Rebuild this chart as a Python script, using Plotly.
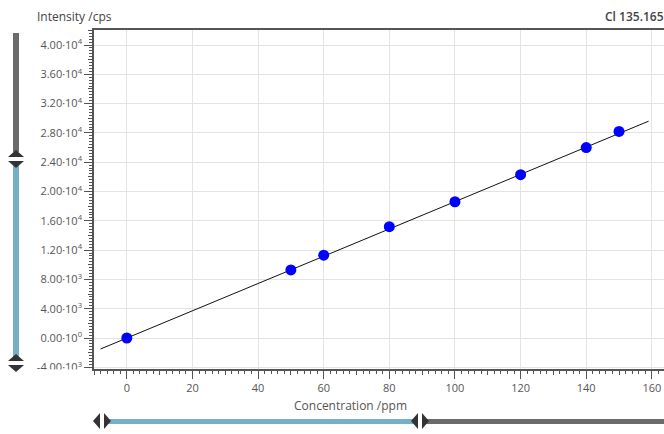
import plotly.graph_objects as go

# ---- data ----
conc_ppm = [0, 50, 60, 80, 100, 120, 140, 150]
intensity_cps = [0, 9300, 11300, 15200, 18600, 22300, 26000, 28200]
fit_x = [-8, 159]
fit_y = [-1500, 29600]

x_tick_vals = [0, 20, 40, 60, 80, 100, 120, 140, 160]
x_tick_text = ["0", "20", "40", "60", "80", "100", "120", "140", "160"]
y_tick_vals = [-4000, 0, 4000, 8000, 12000, 16000, 20000, 24000, 28000, 32000, 36000, 40000]
y_tick_text = ["-4.00·10<sup>3</sup>", "0.00·10<sup>0</sup>", "4.00·10<sup>3</sup>",
               "8.00·10<sup>3</sup>", "1.20·10<sup>4</sup>", "1.60·10<sup>4</sup>",
               "2.00·10<sup>4</sup>", "2.40·10<sup>4</sup>", "2.80·10<sup>4</sup>",
               "3.20·10<sup>4</sup>", "3.60·10<sup>4</sup>", "4.00·10<sup>4</sup>"]
x_mid_ticks = [-10, 10, 30, 50, 70, 90, 110, 130, 150]
y_mid_ticks = [-2000, 2000, 6000, 10000, 14000, 18000, 22000, 26000, 30000, 34000, 38000, 42000]

x_range = [-10, 163.7]
y_range = [-4232, 42048]

W, H = 664, 434
ML, MT, MB, MR = 94, 30, 65, 0
PW, PH = W - ML - MR, H - MT - MB

def px(x):
    return (x - ML) / PW

def py(y):
    return (H - MB - y) / PH

AX = "#555555"
TXT = "#555555"
FONT = "Open Sans, Roboto, sans-serif"

fig = go.Figure()
fig.add_trace(go.Scatter(x=fit_x, y=fit_y, mode="lines",
                         line=dict(color="#111111", width=1), hoverinfo="skip",
                         showlegend=False))
fig.add_trace(go.Scatter(x=conc_ppm, y=intensity_cps, mode="markers",
                         marker=dict(color="#0000ff", size=11), showlegend=False))
# invisible traces to materialise the overlay axes used for mid-length ticks
fig.add_trace(go.Scatter(x=[x_range[0]], y=[y_range[0]], xaxis="x2", yaxis="y",
                         mode="markers", marker=dict(opacity=0), showlegend=False,
                         hoverinfo="skip"))
fig.add_trace(go.Scatter(x=[x_range[0]], y=[y_range[0]], xaxis="x", yaxis="y2",
                         mode="markers", marker=dict(opacity=0), showlegend=False,
                         hoverinfo="skip"))

fig.update_layout(
    width=W, height=H,
    margin=dict(l=ML, r=MR, t=MT, b=MB, pad=0),
    paper_bgcolor="white", plot_bgcolor="white",
    font=dict(family=FONT, color=TXT, size=10),
    xaxis=dict(range=x_range, tickmode="array", tickvals=x_tick_vals, ticktext=x_tick_text,
               showgrid=True, gridcolor="#e3e3e3", gridwidth=1, zeroline=False,
               showline=True, linecolor=AX, linewidth=1.5, mirror=True,
               ticks="outside", ticklen=8, tickcolor=AX, tickwidth=1,
               tickfont=dict(size=11, color=TXT, family=FONT),
               minor=dict(dtick=2, tick0=0, ticks="outside", ticklen=3, tickcolor=AX, showgrid=False)),
    xaxis2=dict(range=x_range, overlaying="x", anchor="y", side="bottom",
                tickmode="array", tickvals=x_mid_ticks, showticklabels=False,
                ticks="outside", ticklen=5, tickcolor=AX, showgrid=False,
                zeroline=False, showline=False),
    yaxis=dict(range=y_range, tickmode="array", tickvals=y_tick_vals, ticktext=y_tick_text,
               showgrid=True, gridcolor="#e3e3e3", gridwidth=1, zeroline=False,
               showline=True, linecolor=AX, linewidth=1.5, mirror=False,
               ticks="outside", ticklen=8, tickcolor=AX, tickwidth=1,
               tickfont=dict(size=11, color=TXT, family=FONT),
               minor=dict(dtick=400, tick0=0, ticks="outside", ticklen=3, tickcolor=AX, showgrid=False)),
    yaxis2=dict(range=y_range, overlaying="y", anchor="x", side="left",
                tickmode="array", tickvals=y_mid_ticks, showticklabels=False,
                ticks="outside", ticklen=5, tickcolor=AX, showgrid=False,
                zeroline=False, showline=False),
)

annotations = [
    dict(text="Intensity /cps", x=px(35), y=py(16), xref="paper", yref="paper",
         xanchor="left", yanchor="middle", showarrow=False,
         font=dict(size=12, color="#444444", family=FONT)),
    dict(text="Cl 135.165", x=px(603), y=py(16), xref="paper", yref="paper",
         xanchor="left", yanchor="middle", showarrow=False,
         font=dict(size=12, color="#444444", family=FONT, weight=600)),
    dict(text="Concentration /ppm", x=px(350), y=py(405), xref="paper", yref="paper",
         xanchor="center", yanchor="middle", showarrow=False,
         font=dict(size=12, color="#555555", family=FONT)),
]
fig.update_layout(annotations=annotations)

BLUE = "#74b0c8"
GREY = "#6b6b6b"
HND = "#333333"

def rect(x0, y0, x1, y1, color):
    return dict(type="rect", xref="paper", yref="paper", x0=px(x0), x1=px(x1),
                y0=py(y1), y1=py(y0), fillcolor=color, line=dict(width=0), layer="above")

def poly(points, color):
    d = "M " + " L ".join(f"{px(a):.5f},{py(b):.5f}" for a, b in points) + " Z"
    return dict(type="path", xref="paper", yref="paper", path=d, fillcolor=color,
                line=dict(width=0), layer="above")

shapes = [
    # cover the lower half of the clipped bottom y tick label
    rect(26, 369.5, 84, 395, "white"),
    # vertical slider
    rect(13, 33, 19, 152, GREY),
    rect(13, 166, 19, 357, BLUE),
    poly([(8, 157), (24, 157), (16, 150)], HND),
    poly([(8, 161), (24, 161), (16, 168)], HND),
    poly([(8, 361), (24, 361), (16, 354)], HND),
    poly([(8, 365), (24, 365), (16, 372)], HND),
    # horizontal slider
    rect(108, 419, 414, 424, BLUE),
    rect(426, 419, 664, 424, GREY),
    poly([(100, 413), (100, 429), (93, 421)], HND),
    poly([(104, 413), (104, 429), (111, 421)], HND),
    poly([(418, 413), (418, 429), (411, 421)], HND),
    poly([(422, 413), (422, 429), (429, 421)], HND),
]
fig.update_layout(shapes=shapes)

fig.write_html("out.html")
